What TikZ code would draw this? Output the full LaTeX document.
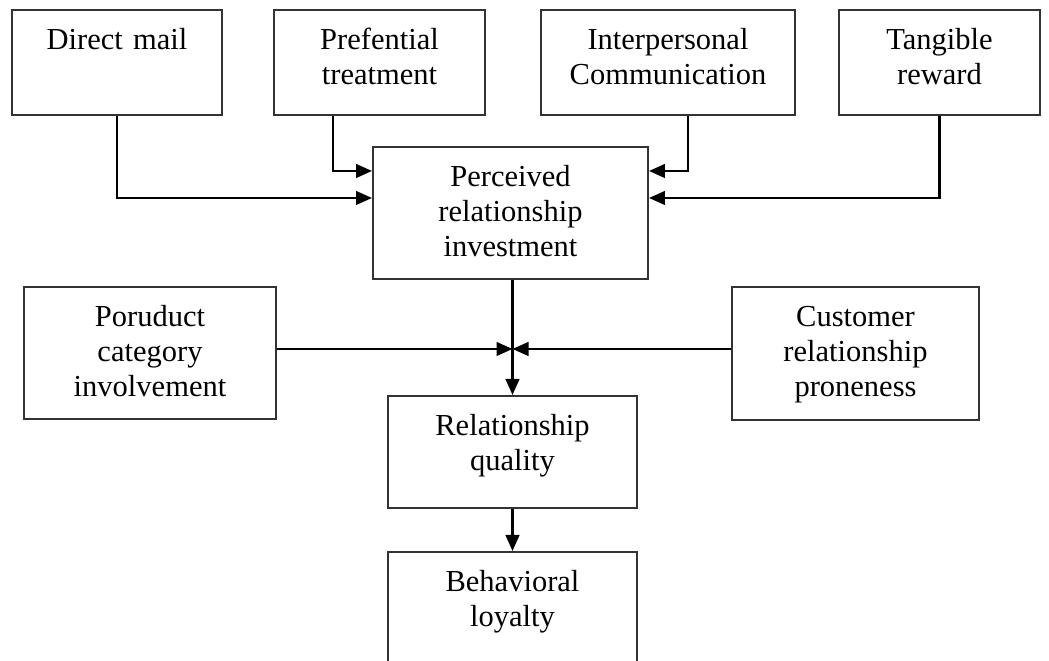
\documentclass[tikz,border=0pt]{standalone}
\usepackage{fontspec}
\setmainfont{Liberation Serif}
\usepackage{tikz}
\usetikzlibrary{arrows.meta,positioning,calc}
\tikzset{
  box/.style        = {draw=black!80, line width=1.4pt, align=center, inner sep=0pt,
                       anchor=north, text height=1.0cm},
  sig/.style        = {-{Triangle[length=4mm, width=3.4mm]}, line width=1.8pt},
  every node/.style = {font=\fontsize{21.7pt}{24.9pt}\selectfont},
}

\begin{document}
\begin{tikzpicture}
  \useasboundingbox (0,0) rectangle (26.225,-16.525);
  % top row
  \node[box, text width=5.25cm,  text depth=1.625cm] (dm)  at (2.925,-0.225)   {Direct mail};
  \node[box, text width=5.275cm, text depth=1.625cm] (pt)  at (9.4875,-0.225)  {Prefential\\treatment};
  \node[box, text width=6.35cm,  text depth=1.625cm] (ic)  at (16.7,-0.225)    {Interpersonal\\Communication};
  \node[box, text width=5.025cm, text depth=1.625cm] (tr)  at (23.4875,-0.225) {Tangible\\reward};
  % middle
  \node[box, text width=6.875cm, text depth=2.3cm]   (pri) at (12.7625,-3.65)  {Perceived\\relationship\\investment};
  \node[box, text width=6.3cm,   text depth=2.3cm]   (pci) at (3.75,-7.15)     {Poruduct\\category\\involvement};
  \node[box, text width=6.175cm, text depth=2.325cm] (crp) at (21.3875,-7.15)  {Customer\\relationship\\proneness};
  \node[box, text width=6.225cm, text depth=1.8cm]   (rq)  at (12.8125,-9.875) {Relationship\\quality};
  \node[box, text width=6.225cm, text depth=2.3cm]   (bl)  at (12.8125,-13.775) {Behavioral\\loyalty};
  \coordinate (j) at ($(rq.north |- pci.east)+(0,0.1)$);
  % connectors
  \draw[sig] (dm.south) |- ($(pri.west)+(0,0.375)$);
  \draw[sig] ($(pt.south)+(-1.1625,0)$) |- ($(pri.west)+(0,1.05)$);
  \draw[sig] ($(ic.south)+(0.5,0)$) |- ($(pri.east)+(0,1.05)$);
  \draw[sig] (tr.south) |- ($(pri.east)+(0,0.375)$);
  \draw[sig] (rq.north |- pri.south) -- (rq.north);
  \draw[sig] (pci.east |- j) -- (j);
  \draw[sig] (crp.west |- j) -- (j);
  \draw[sig] (rq) -- (bl);
\end{tikzpicture}
\end{document}
